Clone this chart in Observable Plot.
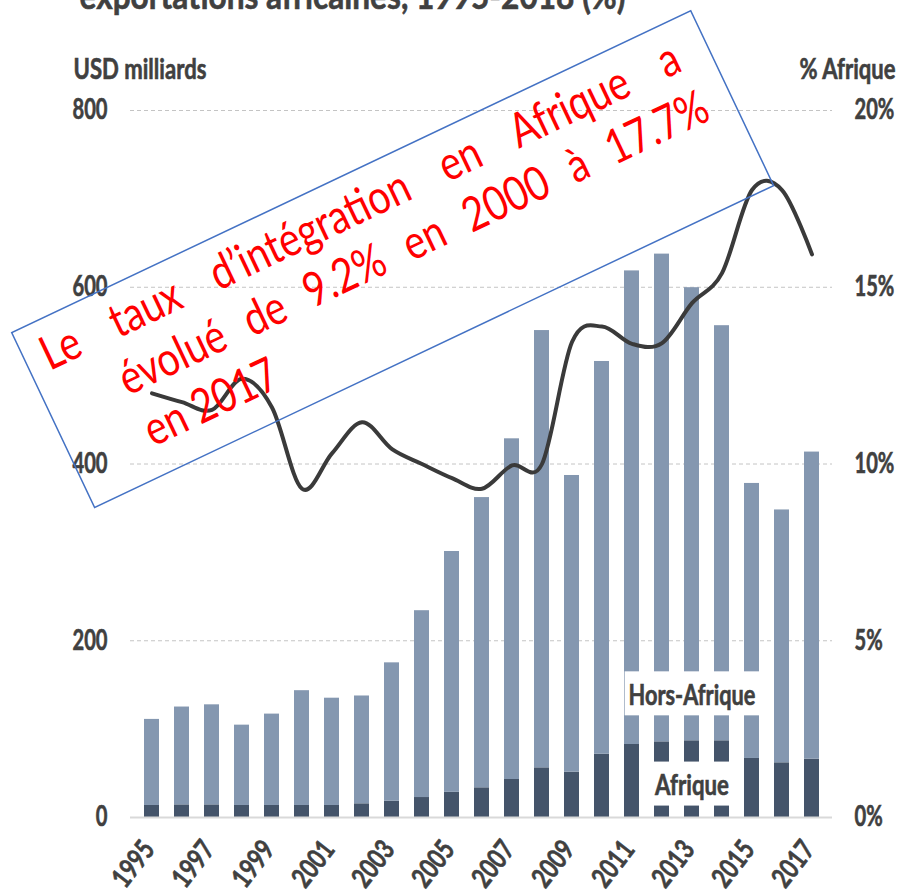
<!DOCTYPE html>
<html><head><meta charset="utf-8">
<script src="https://cdn.jsdelivr.net/npm/d3@7"></script>
<script src="https://cdn.jsdelivr.net/npm/@observablehq/plot@0.6"></script>
<style>
html,body{margin:0;padding:0;background:#fff;}
#chart{position:relative;width:899px;height:892px;overflow:hidden;}
</style></head><body><div id="chart"></div>
<script>
// ---- data ----
const years = ["1995","1996","1997","1998","1999","2000","2001","2002","2003","2004","2005","2006","2007","2008","2009","2010","2011","2012","2013","2014","2015","2016","2017"];
const afrique = [13.6,14.3,14.3,13.6,13.6,13.6,13.6,15.5,18.5,22.6,28.5,33.6,43.0,56.2,51.3,71.6,82.6,85.6,86.8,86.8,66.8,61.9,66.0];
const horsAfrique = [97.4,110.7,113.2,90.9,103.4,129.9,121.4,122.0,156.5,211.4,272.5,328.4,385.5,494.8,335.7,444.4,535.9,551.9,512.7,469.7,311.2,286.1,347.5];
const partAfrique = [12.0,11.75,11.53,12.41,11.6,9.3,10.3,11.18,10.42,10.0,9.6,9.3,9.96,10.0,13.45,13.89,13.4,13.42,14.55,15.4,17.75,17.75,15.93];
const yTicks = [0,200,400,600,800];
const yearTicks = years.filter((d,i)=>i%2===0);
const seriesNames = ["Afrique","Hors-Afrique"];
const seriesColors = ["#44546A","#8497B0"];
const labelTexts = ["Hors-Afrique","Afrique"];
const labelYears = ["2013","2013"];
const labelValues = [138,36];
const titleText = "exportations africaines, 1995-2018 (%)";
const leftTitle = "USD milliards";
const rightTitle = "% Afrique";
const noteLines = [
  ["Le","taux","d’intégration","en","Afrique","a"],
  ["évolué","de","9.2%","en","2000","à","17.7%"],
  ["en","2017"]
];

// ---- build ----
const PCT = 800/20;
const FONT = "Lato, 'Open Sans', sans-serif";
const bars = [];
years.forEach((y,i)=>bars.push({year:y, series:seriesNames[0], value:afrique[i]}));
years.forEach((y,i)=>bars.push({year:y, series:seriesNames[1], value:horsAfrique[i]}));
const lineData = years.map((y,i)=>({year:y, pct:partAfrique[i]}));
const seriesLabels = labelTexts.map((t,i)=>({label:t, year:labelYears[i], value:labelValues[i]}));

const plot = Plot.plot({
  width: 899, height: 892,
  marginTop: 110, marginBottom: 75, marginLeft: 130, marginRight: 67,
  style: {fontFamily: FONT, fontSize: "28px", fontWeight: "bold", color: "#404040", background: "white", overflow: "visible"},
  x: {type: "band", domain: years, paddingInner: 0.5, paddingOuter: 0.25, label: null},
  y: {domain: [0, 800], label: null},
  color: {domain: seriesNames, range: seriesColors},
  marks: [
    Plot.gridY(yTicks.filter(d=>d>0), {stroke: "#c4c4c4", strokeOpacity: 1, strokeDasharray: "4,3", strokeWidth: 1}),
    Plot.barY(bars, {x: "year", y: "value", fill: "series"}),
    Plot.ruleY([0], {stroke: "#d9d9d9", strokeWidth: 2}),
    Plot.line(lineData, {x: "year", y: d => d.pct*PCT, curve: "cardinal", stroke: "#3a3a3a", strokeWidth: 4}),
    Plot.axisY(yTicks, {anchor: "left", tickSize: 0, tickPadding: 23, label: null}),
    Plot.axisY(yTicks, {anchor: "right", tickSize: 0, tickPadding: 22, label: null, tickFormat: d => (d/PCT) + "%"}),
    Plot.axisX(yearTicks, {anchor: "bottom", tickSize: 0, tickPadding: 27, dx: -3, tickRotate: -52, label: null}),
    Plot.text([titleText], {frameAnchor: "top-left", text: d=>d, textAnchor: "start", lineAnchor: "bottom", dx: -51, dy: -101.5, fontSize: 36}),
    Plot.text([leftTitle], {frameAnchor: "top-left", text: d=>d, textAnchor: "start", lineAnchor: "bottom", dx: -57, dy: -32}),
    Plot.text([rightTitle], {frameAnchor: "top-right", text: d=>d, textAnchor: "end", lineAnchor: "bottom", dx: 63, dy: -32}),
    Plot.text(seriesLabels, {x: "year", y: "value", text: "label", fill: "#404040"})
  ]
});
document.getElementById("chart").appendChild(plot);

// condense text horizontally (the reference uses a narrow face) and thicken slightly
function squeeze(el, sx) {
  const xa = el.getAttribute("x"), ya = el.getAttribute("y");
  let tx = 0, ty = 0;
  if (xa && /^[-\d.]+$/.test(xa)) { tx = +xa; el.removeAttribute("x"); }
  if (ya && /^[-\d.]+$/.test(ya)) { ty = +ya; el.removeAttribute("y"); }
  const T = el.getAttribute("transform") || "";
  el.setAttribute("transform", `${T} translate(${tx},${ty}) scale(${sx},1)`);
  el.setAttribute("stroke", "#404040");
  el.setAttribute("stroke-width", 0.6);
}
const sel = (a) => Array.from(plot.querySelectorAll(`g[aria-label="${a}"] text`));
sel("y-axis tick label").forEach(t => squeeze(t, 0.72));
sel("x-axis tick label").forEach(t => squeeze(t, 0.77));
const targets = new Map([[titleText, 546], [leftTitle, 133], [rightTitle, 96]]);
const labelTargets = new Map([[labelTexts[0], 127], [labelTexts[1], 74]]);
Array.from(plot.querySelectorAll("text")).forEach(t => {
  const s = t.textContent;
  if (targets.has(s)) squeeze(t, targets.get(s) / t.getComputedTextLength());
  else if (labelTargets.has(s)) {
    squeeze(t, labelTargets.get(s) / t.getComputedTextLength());
    const b = t.getBBox();
    const cy = b.y + b.height/2;
    const r = document.createElementNS("http://www.w3.org/2000/svg","rect");
    r.setAttribute("x", b.x - 5); r.setAttribute("y", cy - 22);
    r.setAttribute("width", b.width + 10); r.setAttribute("height", 44);
    r.setAttribute("fill", "white");
    r.setAttribute("transform", t.getAttribute("transform"));
    t.parentNode.insertBefore(r, t);
  }
});

// rotated annotation box
const note = d3.select(plot).append("g").attr("text-anchor", "start")
  .attr("transform", "translate(11.7,332.7) rotate(-25.37)");
note.append("rect").attr("width", 751.5).attr("height", 193.5).attr("fill", "none").attr("stroke", "#4472C4").attr("stroke-width", 1.5);
const baselines = [51, 107, 164], starts = [18, 78, 79], ends = [720, 725, null];
const NOTE_SIZE = 39, NOTE_SY = 1.22;
noteLines.forEach((words, li) => {
  const ts = words.map(w => note.append("text").text(w)
    .attr("font-family", "Lato, 'Open Sans', sans-serif").attr("font-size", NOTE_SIZE).attr("font-weight", "normal")
    .attr("text-anchor", "start").attr("fill", "#ff0000"));
  const widths = ts.map(t => t.node().getComputedTextLength());
  const total = widths.reduce((a,b)=>a+b,0);
  const gap = ends[li] ? (ends[li]-starts[li]-total)/(words.length-1) : NOTE_SIZE*0.25;
  let x = starts[li];
  ts.forEach((t,i)=>{ t.attr("transform", `translate(${x},${baselines[li]}) scale(1,${NOTE_SY})`); x += widths[i] + gap; });
});
</script></body></html>
